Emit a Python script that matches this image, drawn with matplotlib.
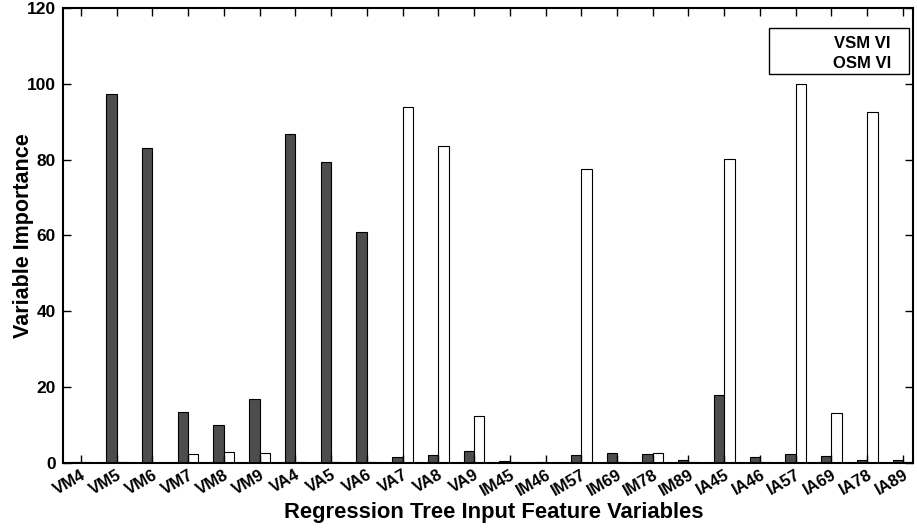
import matplotlib
matplotlib.use("Agg")
import matplotlib.pyplot as plt
import numpy as np
from matplotlib.patches import Rectangle

categories = ["VM4", "VM5", "VM6", "VM7", "VM8", "VM9", "VA4", "VA5", "VA6",
              "VA7", "VA8", "VA9", "IM45", "IM46", "IM57", "IM69", "IM78", "IM89",
              "IA45", "IA46", "IA57", "IA69", "IA78", "IA89"]
vsm_vi = [0.2, 97.3, 83.2, 13.4, 9.9, 17.0, 86.8, 79.5, 61.0, 1.6, 2.1, 3.3,
          0.6, 0.4, 2.1, 2.7, 2.3, 0.7, 18.0, 1.6, 2.3, 1.8, 0.7, 0.7]
osm_vi = [0.3, 0.3, 0.1, 2.5, 2.9, 2.6, 0.2, 0.4, 0.2, 94.0, 83.5, 12.5,
          0.2, 0.1, 77.6, 0.3, 2.6, 0.2, 80.2, 0.3, 100.0, 13.1, 92.5, 0.35]
series_labels = ["VSM VI", "OSM VI"]
yticks = [0, 20, 40, 60, 80, 100, 120]

plt.rcParams['font.family'] = ['Liberation Sans', 'DejaVu Sans']

fig = plt.figure(figsize=(9.17, 5.31), dpi=100)
ax = fig.add_axes([0.0687, 0.128, 0.9269, 0.857])

x = np.arange(len(categories))
w = 0.29
ax.bar(x - w / 2, vsm_vi, width=w, color='#4d4d4d', edgecolor='black', linewidth=0.8)
ax.bar(x + w / 2, osm_vi, width=w, color='white', edgecolor='black', linewidth=0.8)

ax.set_xlim(-0.5, 23.28)
ax.set_ylim(0, 120)
ax.set_yticks(yticks)
ax.set_yticklabels([str(v) for v in yticks], fontsize=12.5, fontweight='bold')
ax.set_xticks(x)
ax.set_xticklabels(categories, rotation=30, ha='right', rotation_mode='anchor',
                   fontsize=12, fontweight='bold')
ax.tick_params(direction='in', length=6, width=1, top=True, right=True)
ax.tick_params(axis='x', pad=3)
ax.tick_params(axis='y', pad=5)
for s in ax.spines.values():
    s.set_linewidth(1.5)

ax.set_ylabel('Variable Importance', fontsize=15.5, fontweight='bold', va='center')
ax.yaxis.set_label_coords(-0.047, 0.5)
ax.set_xlabel('Regression Tree Input Feature Variables', fontsize=15.8, fontweight='bold', va='center')
ax.xaxis.set_label_coords(0.507, -0.108)

# legend box (text-only, as in the reference)
ax.add_patch(Rectangle((0.8306, 0.855), 0.1647, 0.101, transform=ax.transAxes,
                       facecolor='white', edgecolor='black', linewidth=1.0, zorder=5))
for lbl, yy in zip(series_labels, [0.923, 0.879]):
    ax.text(0.9741, yy, lbl, transform=ax.transAxes, ha='right', va='center',
            fontsize=12, fontweight='bold', zorder=6)

fig.savefig('out.png', dpi=100)
